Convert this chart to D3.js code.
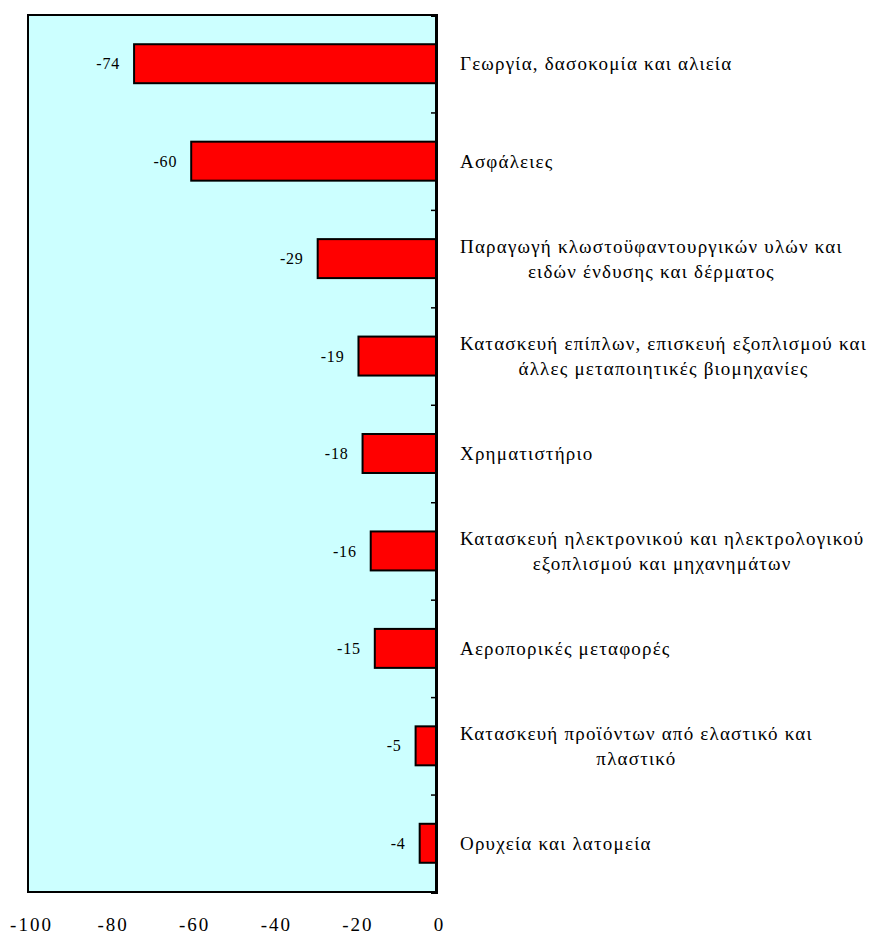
<!DOCTYPE html>
<html><head><meta charset="utf-8">
<script src="https://cdn.jsdelivr.net/npm/d3@7"></script>
<style>body{margin:0;background:#fff} text{font-family:"Liberation Serif","Times New Roman",serif}</style>
</head><body>
<svg id="chart" width="870" height="937"></svg>
<script>
const categories = [
  ["Γεωργία, δασοκομία και αλιεία"],
  ["Ασφάλειες"],
  ["Παραγωγή κλωστοϋφαντουργικών υλών και", "ειδών ένδυσης και δέρματος"],
  ["Κατασκευή επίπλων, επισκευή εξοπλισμού και", "άλλες μεταποιητικές βιομηχανίες"],
  ["Χρηματιστήριο"],
  ["Κατασκευή ηλεκτρονικού και ηλεκτρολογικού", "εξοπλισμού και μηχανημάτων"],
  ["Αεροπορικές μεταφορές"],
  ["Κατασκευή προϊόντων από ελαστικό και", "πλαστικό"],
  ["Ορυχεία και λατομεία"]
];
const values = [-74, -60, -29, -19, -18, -16, -15, -5, -4];
const tickValues = [-100, -80, -60, -40, -20, 0];

const svg = d3.select("#chart");
const L = 28, R = 436, T = 15, B = 892;

const x = d3.scaleLinear().domain([-100, 0]).range([L, R]);
const y = d3.scaleBand().domain(d3.range(values.length)).range([T, B]).paddingInner(0.6).paddingOuter(0.3);

svg.append("rect").attr("x", L).attr("y", T).attr("width", R - L).attr("height", B - T)
  .attr("fill", "#CCFFFF").attr("stroke", "#000").attr("stroke-width", 2);

// bars
svg.selectAll("rect.bar").data(values).join("rect").attr("class", "bar")
  .attr("x", d => x(d)).attr("y", (d, i) => y(i))
  .attr("width", d => x(0) - x(d)).attr("height", y.bandwidth())
  .attr("fill", "#FF0000").attr("stroke", "#000").attr("stroke-width", 2);

// value labels
svg.selectAll("text.val").data(values).join("text").attr("class", "val")
  .attr("x", d => x(d) - 14).attr("y", (d, i) => y(i) + y.bandwidth() / 2)
  .attr("dy", "0.35em").attr("text-anchor", "end")
  .attr("font-size", 16).attr("letter-spacing", 0.8).text(d => d);

// zero axis with ticks at band boundaries
const step = (B - T) / values.length;
const bounds = d3.range(values.length).map(i => T + i * step);
const ax = d3.axisLeft(d3.scaleLinear().domain([T, B]).range([T, B]))
  .tickValues(bounds).tickSize(5).tickFormat("");
svg.append("g").attr("transform", `translate(${x(0)},0)`).call(ax)
  .call(g => g.selectAll("path").attr("stroke-width", 3).attr("stroke", "#000"))
  .call(g => g.selectAll("line").attr("stroke-width", 1.5).attr("stroke", "#000"));

// bottom tick labels
const xAxis = d3.axisBottom(x).tickValues(tickValues).tickSize(0).tickPadding(0).tickFormat(d => String(d));
svg.append("g").attr("transform", `translate(3,${B + 25})`).call(xAxis)
  .call(g => g.select(".domain").remove())
  .call(g => g.selectAll("text").attr("font-size", 19).attr("letter-spacing", 2).attr("fill", "#000")
      .attr("dy", "0.71em"));
svg.selectAll("g").attr("font-family", null);

// category labels
const labelX = 460, lh = 25;
categories.forEach((lines, i) => {
  const cy = y(i) + y.bandwidth() / 2;
  const g = svg.append("g");
  const texts = lines.map((ln, k) => g.append("text")
    .attr("font-size", 19).attr("letter-spacing", 1.2).attr("fill", "#000")
    .attr("y", cy + (k - (lines.length - 1) / 2) * lh).attr("dy", "0.35em").text(ln));
  const widths = texts.map(t => t.node().getComputedTextLength());
  const maxW = d3.max(widths);
  texts.forEach((t, k) => t.attr("x", labelX + (maxW - widths[k]) / 2));
});
</script>
</body></html>
